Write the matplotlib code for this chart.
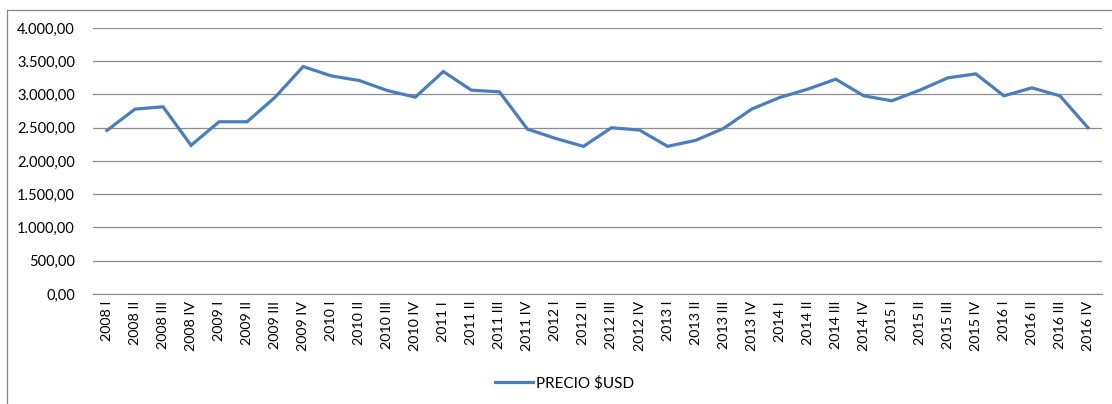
import matplotlib.pyplot as plt
from matplotlib.lines import Line2D
from matplotlib.ticker import FuncFormatter

plt.rcParams['font.family'] = ['Lato', 'DejaVu Sans']

years = ['2008', '2009', '2010', '2011', '2012', '2013', '2014', '2015', '2016']
quarters = ['I', 'II', 'III', 'IV']
labels = [y + ' ' + q for y in years for q in quarters]

precio = [2460, 2780, 2815, 2235, 2590, 2590, 2960, 3420,
          3280, 3210, 3060, 2960, 3345, 3065, 3040, 2480,
          2340, 2220, 2500, 2465, 2220, 2310, 2490, 2780,
          2955, 3080, 3230, 2980, 2905, 3065, 3250, 3310,
          2980, 3100, 2980, 2500]


def fmt(v, pos):
    s = '{:,.2f}'.format(v)
    return s.replace(',', 'X').replace('.', ',').replace('X', '.')


fig = plt.figure(figsize=(11.12, 4.04), dpi=100)
ax = fig.add_axes([0.0836, 0.2723, 0.9074, 0.6584])

x = range(len(precio))
ax.plot(x, precio, color='#4a7ebb', linewidth=2.3, label='PRECIO $USD',
        solid_joinstyle='miter', zorder=3)

ax.set_xlim(-0.5, len(precio) - 0.5)
ax.set_ylim(0, 4000)
ax.set_yticks(range(0, 4001, 500))
ax.yaxis.set_major_formatter(FuncFormatter(fmt))
ax.set_xticks(list(x))
ax.set_xticklabels(labels, rotation=90, fontsize=10.3)
ax.tick_params(axis='y', length=0, pad=13, labelsize=10.5)
ax.tick_params(axis='x', length=0, pad=5)

ax.grid(axis='y', color='#8c8c8c', linewidth=0.9)
ax.set_axisbelow(True)
for s in ['top', 'right', 'left']:
    ax.spines[s].set_visible(False)
ax.spines['bottom'].set_color('#868686')

fig.legend(loc='center', bbox_to_anchor=(0.508, 0.052), frameon=False,
           fontsize=11, handlelength=2.5, handletextpad=0.2)

# chart area border (top and left visible)
fig.add_artist(Line2D([7 / 1112, 1], [1 - 10 / 404, 1 - 10 / 404],
                      transform=fig.transFigure, color='#868686', linewidth=0.9))
fig.add_artist(Line2D([7 / 1112, 7 / 1112], [0, 1 - 10 / 404],
                      transform=fig.transFigure, color='#868686', linewidth=0.9))

fig.savefig('out.png', dpi=100)
